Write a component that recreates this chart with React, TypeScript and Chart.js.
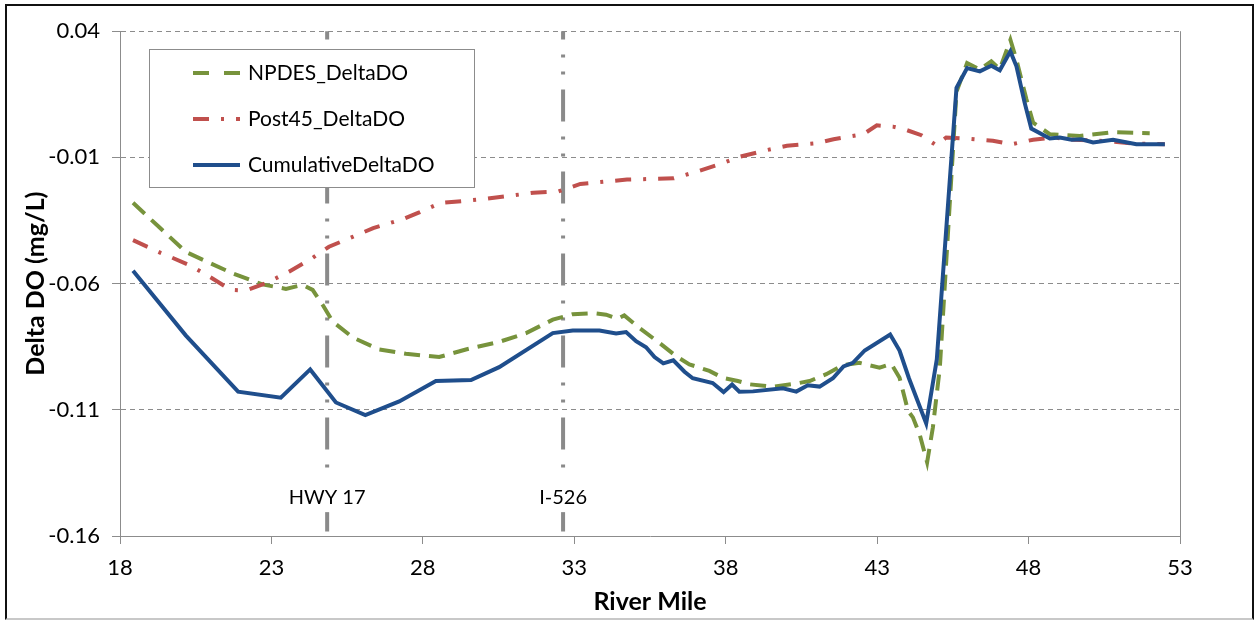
import React, { useEffect, useRef } from "react";
import { Chart, registerables } from "chart.js";

Chart.register(...registerables);

// ---- Data ----
const X_TICKS = [18, 23, 28, 33, 38, 43, 48, 53];
const Y_TICKS = [-0.16, -0.11, -0.06, -0.01, 0.04];

const NPDES_MILES = [
  18.43, 19.29, 20.17, 20.83, 21.71, 22.7, 23.48, 24.03, 24.36, 24.69, 25.02, 25.68, 26.56, 27.44,
  28.54, 29.42, 30.52, 31.41, 32.29, 32.95, 33.61, 34.05, 34.43, 34.65, 35.15, 35.81, 36.36, 36.8,
  37.46, 37.9, 38.4, 38.79, 39.56, 40.33, 40.77, 41.32, 41.87, 42.42, 43.08, 43.47, 43.74, 44.02,
  44.18, 44.4, 44.65, 44.84, 45.07, 45.62, 45.97, 46.39, 46.77, 47.05, 47.4, 47.6, 47.93, 48.15,
  48.7, 49.69, 50.79, 52.0,
];
const NPDES_DO = [
  -0.028, -0.0376, -0.0474, -0.0511, -0.0559, -0.0603, -0.0621, -0.0605, -0.0625, -0.0684, -0.075,
  -0.0813, -0.0861, -0.0878, -0.0891, -0.0861, -0.0831, -0.0796, -0.0743, -0.0721, -0.0717, -0.0723,
  -0.0739, -0.0726, -0.0776, -0.0835, -0.0887, -0.092, -0.0946, -0.0973, -0.0986, -0.0999, -0.1009,
  -0.0996, -0.0986, -0.0959, -0.0923, -0.0914, -0.0933, -0.0918, -0.0973, -0.1104, -0.113, -0.1196,
  -0.1308, -0.117, -0.0933, 0.016, 0.0274, 0.0248, 0.0281, 0.025, 0.0366, 0.0287, 0.013, 0.0038,
  -0.0008, -0.0015, 0.0, -0.0004,
];

const POST45_MILES = [
  18.43, 19.34, 20.28, 20.81, 21.66, 22.15, 22.81, 23.58, 24.36, 24.9, 25.68, 26.36, 27.33, 27.9,
  28.57, 30.1, 31.65, 32.48, 33.2, 34.74, 36.28, 37.05, 37.82, 38.48, 39.36, 40.02, 41.01, 41.56,
  42.55, 42.99, 43.52, 43.91, 44.46, 44.95, 45.28, 45.89, 46.82, 47.43, 48.15, 48.81, 49.5, 50.5,
  51.5, 52.5,
];
const POST45_DO = [
  -0.0428, -0.0478, -0.0526, -0.0562, -0.0625, -0.0628, -0.0599, -0.0553, -0.0498, -0.0454, -0.0415,
  -0.038, -0.0345, -0.0317, -0.0281, -0.0264, -0.024, -0.0235, -0.0205, -0.0188, -0.0183, -0.0156,
  -0.0126, -0.0097, -0.0071, -0.0054, -0.0044, -0.0028, -0.0008, 0.0027, 0.0022, 0.0011, -0.0012,
  -0.0052, -0.0021, -0.0025, -0.0034, -0.0048, -0.003, -0.0021, -0.003, -0.0035, -0.0045, -0.0048,
];

const CUMUL_MILES = [
  18.43, 20.17, 21.9, 23.31, 24.28, 25.13, 26.1, 27.22, 28.43, 29.59, 30.52, 32.29, 32.95, 33.83,
  34.38, 34.71, 35.04, 35.37, 35.65, 35.94, 36.27, 36.64, 36.91, 37.57, 37.93, 38.21, 38.45, 38.9,
  39.89, 40.33, 40.71, 41.1, 41.54, 41.89, 42.2, 42.59, 43.43, 43.74, 44.05, 44.62, 44.97, 45.62,
  45.97, 46.39, 46.77, 47.05, 47.4, 47.6, 47.87, 48.09, 48.7, 49.03, 49.42, 49.75, 50.13, 50.79,
  51.56, 52.5,
];
const CUMUL_DO = [
  -0.0549, -0.0805, -0.1028, -0.1052, -0.094, -0.1071, -0.1121, -0.1067, -0.0986, -0.0982, -0.0931,
  -0.0796, -0.0786, -0.0786, -0.0798, -0.0792, -0.0828, -0.0852, -0.0891, -0.0916, -0.0904, -0.0949,
  -0.0975, -0.0994, -0.103, -0.1, -0.1028, -0.1027, -0.1015, -0.1028, -0.1003, -0.1008, -0.0975,
  -0.0928, -0.0914, -0.0865, -0.0802, -0.0865, -0.0975, -0.1154, -0.09, 0.0176, 0.0254, 0.0241,
  0.0263, 0.0245, 0.032, 0.0261, 0.0117, 0.0014, -0.0025, -0.0021, -0.003, -0.0028, -0.0041, -0.003,
  -0.0048, -0.0048,
];

const REF_MILES = [24.84, 32.63];
const REF_LABELS = ["HWY 17", "I-526"];

const SERIES_LABELS = ["NPDES_DeltaDO", "Post45_DeltaDO", "CumulativeDeltaDO"];

// ---- Styles ----
const FONT = "Lato, 'Open Sans', 'DejaVu Sans', sans-serif";
const GRID = "#8c8c8c";
const GREEN = "#77933C";
const RED = "#C0504D";
const BLUE = "#1F4E8C";

const toPoints = (xs: number[], ys: number[]) => xs.map((x, i) => ({ x, y: ys[i] }));

const framePlugin = {
  id: "frameAndRefs",
  beforeDatasetsDraw(chart: any) {
    const { ctx, chartArea, scales } = chart;
    ctx.save();
    // right plot border
    ctx.strokeStyle = GRID;
    ctx.lineWidth = 1;
    ctx.beginPath();
    ctx.moveTo(Math.round(chartArea.right) + 0.5, chartArea.top);
    ctx.lineTo(Math.round(chartArea.right) + 0.5, chartArea.bottom);
    ctx.stroke();
    // reference lines
    const h = chartArea.bottom - chartArea.top;
    REF_MILES.forEach((m, i) => {
      const x = scales.x.getPixelForValue(m);
      ctx.strokeStyle = "#8a8a8a";
      ctx.lineWidth = 4;
      ctx.lineCap = "butt";
      ctx.setLineDash([32, 15, 3, 14, 3, 15]);
      ctx.lineDashOffset = 23.7;
      ctx.beginPath();
      ctx.moveTo(x, chartArea.top);
      ctx.lineTo(x, chartArea.bottom);
      ctx.stroke();
      ctx.setLineDash([]);
      const ly = chartArea.top + h * 0.923;
      ctx.font = `20px ${FONT}`;
      const tw = ctx.measureText(REF_LABELS[i]).width;
      ctx.fillStyle = "#fff";
      ctx.fillRect(x - tw / 2 - 4, ly - 20, tw + 8, 35);
      ctx.fillStyle = "#000";
      ctx.textAlign = "center";
      ctx.textBaseline = "middle";
      ctx.fillText(REF_LABELS[i], x, ly);
    });
    ctx.restore();
  },
  afterDraw(chart: any) {
    const { ctx, chartArea } = chart;
    const x0 = Math.round(chartArea.left + 29);
    const y0 = Math.round(chartArea.top + 18);
    const w = 325;
    const hgt = 138;
    ctx.save();
    ctx.fillStyle = "#fff";
    ctx.fillRect(x0, y0, w, hgt);
    ctx.strokeStyle = GRID;
    ctx.lineWidth = 1;
    ctx.strokeRect(x0 + 0.5, y0 + 0.5, w, hgt);
    chart.data.datasets.forEach((ds: any, i: number) => {
      const y = y0 + 24 + i * 46;
      ctx.beginPath();
      ctx.setLineDash(ds.legendDash);
      ctx.strokeStyle = ds.borderColor;
      ctx.lineWidth = ds.borderWidth;
      ctx.lineCap = "butt";
      ctx.moveTo(x0 + 44, y);
      ctx.lineTo(x0 + 91, y);
      ctx.stroke();
      ctx.setLineDash([]);
      ctx.fillStyle = "#000";
      ctx.font = `21px ${FONT}`;
      ctx.textAlign = "left";
      ctx.textBaseline = "middle";
      ctx.fillText(ds.label, x0 + 99, y);
    });
    ctx.restore();
  },
};

export default function App() {
  const ref = useRef<HTMLCanvasElement | null>(null);

  useEffect(() => {
    if (!ref.current) return;
    const chart = new Chart(ref.current, {
      type: "line",
      data: {
        datasets: [
          {
            label: SERIES_LABELS[0],
            data: toPoints(NPDES_MILES, NPDES_DO),
            borderColor: GREEN,
            borderWidth: 4,
            borderDash: [16, 9],
            legendDash: [16, 15],
            pointRadius: 0,
            tension: 0,
            order: 2,
          } as any,
          {
            label: SERIES_LABELS[1],
            data: toPoints(POST45_MILES, POST45_DO),
            borderColor: RED,
            borderWidth: 4,
            borderDash: [16, 12, 3, 12],
            legendDash: [16, 12, 3, 12],
            pointRadius: 0,
            tension: 0,
            order: 1,
          } as any,
          {
            label: SERIES_LABELS[2],
            data: toPoints(CUMUL_MILES, CUMUL_DO),
            borderColor: BLUE,
            borderWidth: 4,
            legendDash: [],
            pointRadius: 0,
            tension: 0,
            order: 0,
          } as any,
        ],
      },
      options: {
        animation: false,
        responsive: false,
        events: [],
        layout: { padding: { left: 0, top: 22, right: 72, bottom: 0 } },
        plugins: { legend: { display: false }, tooltip: { enabled: false } },
        scales: {
          x: {
            type: "linear",
            min: 18,
            max: 53,
            afterBuildTicks: (s: any) => {
              s.ticks = X_TICKS.map((v) => ({ value: v }));
            },
            afterFit: (s: any) => {
              s.height = 82;
            },
            ticks: {
              color: "#000",
              font: { family: FONT, size: 22 },
              padding: 11,
              maxRotation: 0,
              autoSkip: false,
            },
            grid: {
              drawOnChartArea: false,
              drawTicks: true,
              tickLength: 8,
              color: GRID,
              tickColor: GRID,
              tickBorderDash: [],
            } as any,
            border: { display: true, color: GRID, width: 1 },
            title: {
              display: true,
              text: "River Mile",
              color: "#000",
              font: { family: FONT, size: 25, weight: "bold", lineHeight: 1 },
              padding: { top: 0, bottom: 4 },
            },
          },
          y: {
            type: "linear",
            min: -0.16,
            max: 0.04,
            afterBuildTicks: (s: any) => {
              s.ticks = Y_TICKS.map((v) => ({ value: v }));
            },
            afterFit: (s: any) => {
              s.width = 113;
            },
            ticks: {
              color: "#000",
              font: { family: FONT, size: 22 },
              padding: 12,
              callback: (v: any) => Number(v).toFixed(2),
            },
            grid: {
              drawTicks: true,
              tickLength: 8,
              color: GRID,
              tickColor: GRID,
              tickBorderDash: [],
            } as any,
            border: { display: true, color: GRID, width: 1, dash: [5, 4] },
            title: {
              display: true,
              text: "Delta DO (mg/L)",
              color: "#000",
              font: { family: FONT, size: 25, weight: "bold", lineHeight: 1 },
              padding: { top: 16, bottom: 0 },
            },
          },
        },
      },
      plugins: [framePlugin],
    } as any);
    return () => chart.destroy();
  }, []);

  return (
    <div
      style={{
        position: "absolute",
        left: 5,
        top: 4,
        width: 1249,
        height: 616,
        boxSizing: "border-box",
        borderTop: "2px solid #111",
        borderLeft: "2px solid #111",
        borderRight: "2px solid #111",
        borderBottom: "2px solid #c8c8c8",
        background: "#fff",
      }}
    >
      <canvas ref={ref} width={1245} height={612} style={{ display: "block", width: 1245, height: 612 }} />
    </div>
  );
}
